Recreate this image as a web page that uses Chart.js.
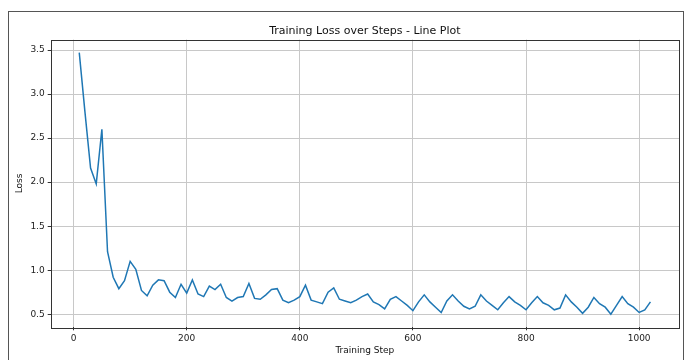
<!DOCTYPE html>
<html>
<head>
<meta charset="utf-8">
<script src="https://cdn.jsdelivr.net/npm/chart.js@4.4.1/dist/chart.umd.min.js"></script>
<style>
  body { margin: 0; background: #fff; }
  #wrap { position: relative; width: 686px; height: 360px; }
  #frame {
    position: absolute; left: 8px; top: 11px; width: 674px; height: 360px;
    border: 1px solid #555; pointer-events: none;
  }
</style>
</head>
<body>
<div id="wrap">
  <canvas id="myChart" width="686" height="360"></canvas>
  <div id="frame"></div>
</div>
<script>
'use strict';

// DATA

let steps = [
  10, 20, 30, 40, 50, 60, 70, 80, 90, 100,
  110, 120, 130, 140, 150, 160, 170, 180, 190, 200,
  210, 220, 230, 240, 250, 260, 270, 280, 290, 300,
  310, 320, 330, 340, 350, 360, 370, 380, 390, 400,
  410, 420, 430, 440, 450, 460, 470, 480, 490, 500,
  510, 520, 530, 540, 550, 560, 570, 580, 590, 600,
  610, 620, 630, 640, 650, 660, 670, 680, 690, 700,
  710, 720, 730, 740, 750, 760, 770, 780, 790, 800,
  810, 820, 830, 840, 850, 860, 870, 880, 890, 900,
  910, 920, 930, 940, 950, 960, 970, 980, 990, 1000,
  1010, 1020
];

let loss = [
  3.47, 2.80, 2.16, 1.98, 2.60, 1.21, 0.92, 0.79, 0.88, 1.10,
  1.01, 0.77, 0.71, 0.83, 0.89, 0.88, 0.75, 0.69, 0.84, 0.74,
  0.89, 0.73, 0.70, 0.82, 0.78, 0.84, 0.69, 0.65, 0.69, 0.70,
  0.85, 0.68, 0.67, 0.72, 0.78, 0.79, 0.66, 0.63, 0.66, 0.70,
  0.83, 0.66, 0.64, 0.62, 0.75, 0.80, 0.67, 0.65, 0.63, 0.66,
  0.70, 0.73, 0.64, 0.61, 0.56, 0.67, 0.70, 0.65, 0.60, 0.54,
  0.64, 0.72, 0.64, 0.58, 0.52, 0.65, 0.72, 0.65, 0.59, 0.56,
  0.59, 0.72, 0.65, 0.60, 0.55, 0.63, 0.70, 0.64, 0.60, 0.55,
  0.63, 0.70, 0.63, 0.60, 0.55, 0.57, 0.72, 0.64, 0.58, 0.51,
  0.58, 0.69, 0.62, 0.58, 0.50, 0.60, 0.70, 0.62, 0.58, 0.52,
  0.55, 0.64
];

let xTicks = [0, 200, 400, 600, 800, 1000];
let yTicks = [0.5, 1.0, 1.5, 2.0, 2.5, 3.0, 3.5];

// CHART

let points = [];
for (let i = 0; i < steps.length; i++) {
  points.push({ x: steps[i], y: loss[i] });
}

// axes box (matplotlib style spines)
const boxPlugin = {
  id: 'boxPlugin',
  afterDraw(chart) {
    const { ctx, chartArea } = chart;
    ctx.save();
    ctx.strokeStyle = '#333';
    ctx.lineWidth = 1;
    ctx.strokeRect(Math.round(chartArea.left) + 0.5, Math.round(chartArea.top) + 0.5,
      Math.round(chartArea.right - chartArea.left), Math.round(chartArea.bottom - chartArea.top));
    ctx.restore();
  }
};

Chart.defaults.font.family = '"DejaVu Sans", sans-serif';
Chart.defaults.color = '#222';

const config = {
  type: 'line',
  data: {
    datasets: [
      {
        label: 'Loss',
        data: points,
        borderColor: '#1f77b4',
        backgroundColor: '#1f77b4',
        borderWidth: 1.5,
        pointRadius: 0,
        tension: 0,
        fill: false
      }
    ]
  },
  options: {
    responsive: false,
    animation: false,
    layout: {
      padding: { left: 0, right: 7, top: 0, bottom: 0 }
    },
    plugins: {
      legend: { display: false },
      tooltip: { enabled: false },
      title: {
        display: true,
        text: 'Training Loss over Steps - Line Plot',
        fullSize: false,
        color: '#111',
        font: { size: 11, weight: 'normal' },
        padding: { top: 24.4, bottom: 2 }
      }
    },
    scales: {
      x: {
        type: 'linear',
        min: -40.5,
        max: 1070.5,
        afterBuildTicks: function(scale) {
          scale.ticks = xTicks.map(v => ({ value: v }));
        },
        afterFit: function(scale) {
          scale.height = 32.7;
        },
        ticks: {
          font: { size: 9 },
          color: '#222',
          padding: 3,
          maxRotation: 0,
          callback: function(value) {
            return String(value);
          }
        },
        grid: {
          color: '#c8c8c8',
          lineWidth: 1,
          tickLength: 3,
          tickColor: '#333'
        },
        border: { display: false },
        title: {
          display: true,
          text: 'Training Step',
          color: '#111',
          font: { size: 9 },
          padding: { top: 2, bottom: 3.5 }
        }
      },
      y: {
        type: 'linear',
        min: 0.3515,
        max: 3.6185,
        afterBuildTicks: function(scale) {
          scale.ticks = yTicks.map(v => ({ value: v }));
        },
        afterFit: function(scale) {
          scale.width = 50.7;
        },
        ticks: {
          font: { size: 9 },
          color: '#222',
          padding: 3,
          callback: function(value) {
            return value.toFixed(1);
          }
        },
        grid: {
          color: '#c8c8c8',
          lineWidth: 1,
          tickLength: 3,
          tickColor: '#333'
        },
        border: { display: false },
        title: {
          display: true,
          text: 'Loss',
          color: '#111',
          font: { size: 9 },
          padding: { top: 14.5, bottom: 2 }
        }
      }
    }
  },
  plugins: [boxPlugin]
};

let canvas = document.getElementById('myChart').getContext('2d');
new Chart(canvas, config);
</script>
</body>
</html>
